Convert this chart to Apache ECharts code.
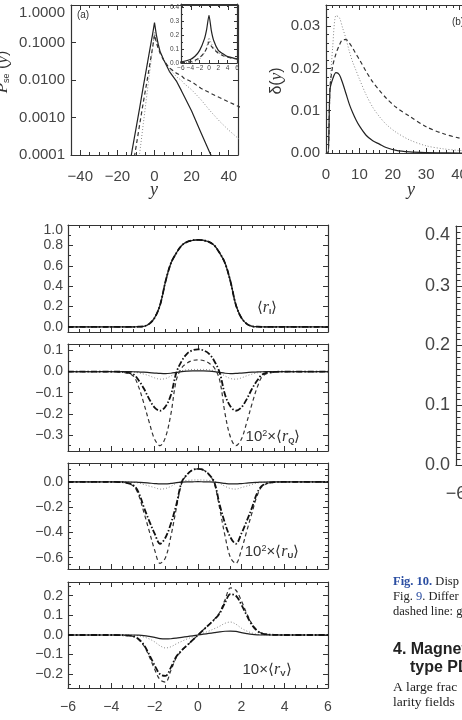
<!DOCTYPE html>
<html>
<head>
<meta charset="utf-8">
<script src="https://cdn.jsdelivr.net/npm/echarts@6/dist/echarts.min.js"></script>
<style>
html, body { margin: 0; padding: 0; background: #fff; overflow: hidden; }
#main { width: 462px; height: 720px; }
</style>
</head>
<body>
<div id="main"></div>
<script>
// ---- panel (a): P_se(y), log scale
var aX = [-20,-15,-13,-12,-10,-9,-8,-6,-4,-2,-1,0,1,2,3,5,8,12,14.5,16,20,25,30,35,40,45,50];
var aSolid = [1e-6,2.2e-5,7e-5,1.4e-4,5e-4,9.5e-4,0.0018,0.0069,0.025,0.09,0.17,0.34,0.16,0.09,0.058,0.034,0.017,0.009,0.0052,0.0037,0.0015,0.0004,0.00011,0.000035,0.00001,0.000003,0.000001];
var aDashed = [1e-7,5e-6,2e-5,4e-5,1.6e-4,3.2e-4,6.5e-4,0.0026,0.0095,0.038,0.075,0.16,0.1,0.07,0.052,0.033,0.021,0.015,0.013,0.011,0.009,0.006,0.0045,0.0034,0.0026,0.002,0.0016];
var aDotted = [1e-8,1e-7,1e-6,2.5e-6,1.6e-5,4e-5,1.1e-4,7e-4,0.0045,0.028,0.07,0.19,0.11,0.075,0.055,0.034,0.02,0.012,0.0098,0.008,0.0055,0.003,0.0015,0.0008,0.00046,0.00028,0.00017];
var aXLabels = [-40,-20,0,20,40];

// inset of (a), linear scale
var insX = [-7.5,-6,-4,-3,-2,-1,-0.5,0,0.5,1,2,3,4,6];
var insSolid = [0.003,0.007,0.025,0.048,0.09,0.17,0.24,0.34,0.23,0.16,0.09,0.065,0.045,0.03];
var insDashed = [0.0008,0.0026,0.0095,0.019,0.038,0.075,0.105,0.15,0.12,0.1,0.07,0.052,0.041,0.027];
var insDotted = [0.00005,0.0007,0.0045,0.011,0.028,0.07,0.11,0.18,0.14,0.11,0.075,0.055,0.042,0.027];
var insXLabels = [-6,-4,-2,0,2,4,6];
var insYLabels = [0,0.1,0.2,0.3,0.4];

// ---- panel (b): delta(y)
var bX = [0,0.6,1.2,2,3,4,5,6,7,8,9,10,12,14,16,18,21,25,30,35,40,45,50];
var bSolid = [0,0,0.015,0.0175,0.019,0.0185,0.0165,0.014,0.0115,0.0095,0.0078,0.0064,0.0042,0.0029,0.0021,0.0013,0.0006,0.00025,0.0001,0.00005,0,0,0];
var bDotted = [0,0,0.015,0.025,0.0325,0.032,0.0295,0.027,0.024,0.0215,0.0195,0.0175,0.0138,0.0108,0.0086,0.0068,0.0049,0.0031,0.0017,0.001,0.0006,0.0004,0.0003];
var bDashed = [0,0,0.0155,0.0205,0.0235,0.0255,0.0268,0.0268,0.026,0.0248,0.0234,0.0221,0.0193,0.0168,0.0148,0.013,0.0108,0.0087,0.0062,0.0046,0.0035,0.0027,0.0022];
var bXLabels = [0,10,20,30,40,50];
var bYLabels = [0,0.01,0.02,0.03];

// ---- stacked Stokes panels
var zX = [-6,-4,-3.5,-3,-2.75,-2.5,-2.25,-2,-1.75,-1.5,-1.25,-1,-0.75,-0.5,-0.25,0,0.25,0.5,0.75,1,1.25,1.5,1.75,2,2.25,2.5,2.75,3,3.5,4,6];
var iProfile = [0,0,0,0,0.002,0.006,0.03,0.09,0.215,0.445,0.625,0.725,0.8,0.835,0.85,0.855,0.85,0.835,0.8,0.725,0.625,0.445,0.215,0.09,0.03,0.006,0.002,0,0,0,0];

var qDashDot = [0,0,-0.002,-0.012,-0.04,-0.08,-0.13,-0.17,-0.185,-0.165,-0.11,-0.005,0.05,0.085,0.1,0.105,0.1,0.085,0.05,-0.005,-0.11,-0.165,-0.185,-0.17,-0.13,-0.08,-0.04,-0.012,-0.002,0,0];
var qDashed = [0,0,-0.003,-0.02,-0.07,-0.15,-0.24,-0.32,-0.35,-0.31,-0.2,-0.04,0.018,0.04,0.052,0.055,0.052,0.04,0.018,-0.04,-0.2,-0.31,-0.35,-0.32,-0.24,-0.15,-0.07,-0.02,-0.003,0,0];
var qDotted = [0,0,0,-0.002,-0.006,-0.012,-0.02,-0.03,-0.036,-0.033,-0.021,-0.006,0.004,0.008,0.01,0.01,0.01,0.008,0.004,-0.006,-0.021,-0.033,-0.036,-0.03,-0.02,-0.012,-0.006,-0.002,0,0,0];
var qSolid = [0,0,0,-0.001,-0.002,-0.003,-0.005,-0.007,-0.009,-0.01,-0.008,-0.004,0,0.002,0.003,0.003,0.003,0.002,0,-0.004,-0.008,-0.01,-0.009,-0.007,-0.005,-0.003,-0.002,-0.001,0,0,0];

var uDashDot = [0,0,-0.002,-0.025,-0.08,-0.2,-0.31,-0.41,-0.49,-0.44,-0.33,-0.18,0,0.06,0.095,0.104,0.095,0.06,0,-0.18,-0.33,-0.44,-0.49,-0.41,-0.31,-0.2,-0.08,-0.025,-0.002,0,0];
var uDashed = [0,0,-0.003,-0.03,-0.1,-0.24,-0.39,-0.54,-0.645,-0.6,-0.43,-0.21,-0.01,0.06,0.095,0.104,0.095,0.06,-0.01,-0.21,-0.43,-0.6,-0.645,-0.54,-0.39,-0.24,-0.1,-0.03,-0.003,0,0];
var uDotted = [0,0,0,-0.003,-0.008,-0.02,-0.033,-0.045,-0.057,-0.052,-0.035,-0.01,0.005,0.012,0.015,0.016,0.015,0.012,0.005,-0.01,-0.035,-0.052,-0.057,-0.045,-0.033,-0.02,-0.008,-0.003,0,0,0];
var uSolid = [0,0,0,-0.001,-0.003,-0.005,-0.009,-0.013,-0.016,-0.016,-0.012,-0.006,-0.002,0,0.001,0.002,0.001,0,-0.002,-0.006,-0.012,-0.016,-0.016,-0.013,-0.009,-0.005,-0.003,-0.001,0,0,0];

var vDashDot = [0,0,-0.001,-0.006,-0.02,-0.05,-0.1,-0.155,-0.2,-0.208,-0.165,-0.11,-0.078,-0.052,-0.026,0,0.026,0.052,0.078,0.11,0.165,0.208,0.2,0.155,0.1,0.05,0.02,0.006,0.001,0,0];
var vDashed = [0,0,-0.001,-0.007,-0.022,-0.055,-0.11,-0.175,-0.228,-0.24,-0.18,-0.115,-0.08,-0.053,-0.027,0,0.027,0.053,0.08,0.115,0.18,0.24,0.228,0.175,0.11,0.055,0.022,0.007,0.001,0,0];
var vDotted = [0,0,0,-0.001,-0.004,-0.01,-0.02,-0.035,-0.055,-0.066,-0.06,-0.045,-0.032,-0.02,-0.01,0,0.01,0.02,0.032,0.045,0.06,0.066,0.055,0.035,0.02,0.01,0.004,0.001,0,0,0];
var vSolid = [0,0,0,0,-0.001,-0.003,-0.007,-0.012,-0.018,-0.02,-0.019,-0.016,-0.012,-0.008,-0.004,0,0.004,0.008,0.012,0.016,0.019,0.02,0.018,0.012,0.007,0.003,0.001,0,0,0,0];

var zXLabels = [-6,-4,-2,0,2,4,6];
var yLabI = [0,0.2,0.4,0.6,0.8,1.0];
var yLabQ = [-0.3,-0.2,-0.1,0,0.1];
var yLabU = [-0.6,-0.4,-0.2,0];
var yLabV = [-0.2,-0.1,0,0.1,0.2];

// ---- cut-off plot at the right edge
var rYLabels = [0,0.1,0.2,0.3,0.4];
var rXLabels = [-6];

var INK = '#333', TXT = '#444';
var grids = [], xAxes = [], yAxes = [], series = [], graphics = [];

function steps(a, b, s) {
  var out = [];
  for (var v = a; v <= b + 1e-9; v += s) out.push(+v.toFixed(6));
  return out;
}
function signed(d) {
  return function (v) { return (v < 0 ? '\u2212' : '') + Math.abs(v).toFixed(d); };
}

function axis(g, pos, range, o) {
  var ax = {
    gridIndex: g, type: o.log ? 'log' : 'value', position: pos,
    min: range[0], max: range[1],
    splitLine: { show: false },
    axisLine: { show: !!o.line, onZero: false, lineStyle: { color: INK, width: 1.2 } },
    axisTick: o.ticks ? { show: true, inside: true, length: o.len, lineStyle: { color: INK, width: 1 } } : { show: false },
    axisLabel: { show: false }
  };
  if (o.ticks && o.ticks !== 'auto') ax.axisTick.customValues = o.ticks;
  if (o.labels) {
    ax.axisLabel = { show: true, color: TXT, fontFamily: 'Liberation Sans', fontSize: o.size, margin: o.margin,
      formatter: o.fmt, showMinLabel: true, showMaxLabel: true, hideOverlap: false };
    if (o.lh) ax.axisLabel.lineHeight = o.lh;
    if (o.labels !== 'auto') ax.axisLabel.customValues = o.labels;
    if (o.topAlign) ax.axisLabel.verticalAlignMaxLabel = 'top';
  }
  return ax;
}

// one framed panel: a major grid and a minor-tick grid at the same place
function panel(rect, xr, yr, p) {
  var g = grids.length;
  for (var k = 0; k < 2; k++) grids.push(Object.assign({ show: false, containLabel: false, outerBoundsMode: 'none' }, rect));
  var xi = xAxes.length, yi = yAxes.length;
  xAxes.push(axis(g, 'bottom', xr, { line: true, ticks: p.xMaj, len: p.lenMaj, labels: p.xLab, fmt: p.xFmt, size: p.size, margin: p.xMargin }));
  xAxes.push(axis(g, 'top', xr, { line: true, ticks: p.xMaj, len: p.lenMaj }));
  xAxes.push(axis(g + 1, 'bottom', xr, { ticks: p.xMin, len: p.lenMin }));
  xAxes.push(axis(g + 1, 'top', xr, { ticks: p.xMin, len: p.lenMin }));
  yAxes.push(axis(g, 'left', yr, { log: p.log, line: true, ticks: p.yMaj, len: p.lenMaj, labels: p.yLab, fmt: p.yFmt, size: p.size, margin: p.yMargin, topAlign: p.topAlign, lh: p.lh }));
  yAxes.push(axis(g, 'right', yr, { log: p.log, line: true, ticks: p.yMaj, len: p.lenMaj }));
  yAxes.push(axis(g + 1, 'left', yr, { log: p.log, ticks: p.yMin, len: p.lenMin }));
  yAxes.push(axis(g + 1, 'right', yr, { log: p.log, ticks: p.yMin, len: p.lenMin }));
  return { x: xi, y: yi };
}

var SOLID = { color: '#222', width: 1.2, type: 'solid' };
var DASH = { color: '#333', width: 1.2, type: [4, 3] };
var DOT = { color: '#8a8a8a', width: 1, type: [1, 2] };
var DDOT = { color: '#111', width: 1.8, type: [6, 2, 1.5, 2] };

function line(ax, xs, ys, st, smooth, z) {
  series.push({
    type: 'line', xAxisIndex: ax.x, yAxisIndex: ax.y,
    data: xs.map(function (x, i) { return [x, ys[i]]; }),
    symbol: 'none', smooth: smooth, silent: true, z: z,
    lineStyle: st
  });
}

function txt(x, y, text, st, rot) {
  graphics.push({
    type: 'text', x: x, y: y, rotation: rot || 0, silent: true, z: 100,
    style: Object.assign({ text: text, fill: '#333', align: 'center', verticalAlign: 'middle',
      fontFamily: 'Liberation Sans', fontSize: 15 }, st)
  });
}

// (a)
var pa = panel({ left: 71, top: 5, width: 167, height: 150 }, [-45, 45], [0.0001, 1], {
  log: true, xMaj: aXLabels, xMin: steps(-45, 45, 5), yMaj: 'auto', yMin: null,
  lenMaj: 5, lenMin: 3, xLab: aXLabels, yLab: 'auto', size: 15, xMargin: 14, yMargin: 6, topAlign: true,
  xFmt: signed(0), yFmt: function (v) { return v.toFixed(4); }
});
line(pa, aX, aDotted, DOT, false, 2);
line(pa, aX, aSolid, SOLID, false, 3);
line(pa, aX, aDashed, DASH, false, 3);

var pin = panel({ left: 181, top: 4, width: 56, height: 59 }, [-6, 6], [0, 0.42], {
  xMaj: insXLabels, xMin: null, yMaj: insYLabels, yMin: steps(0, 0.4, 0.05), lenMaj: 3, lenMin: 2,
  xLab: insXLabels, yLab: insYLabels, size: 6.5, xMargin: 2, yMargin: 2,
  xFmt: signed(0), yFmt: signed(1)
});
line(pin, insX, insDotted, DOT, 0.2, 4);
line(pin, insX, insSolid, SOLID, 0.2, 4);
line(pin, insX, insDashed, DASH, 0.2, 4);

// (b)
var pb = panel({ left: 326, top: 5, width: 167, height: 148 }, [0, 50], [0, 0.035], {
  xMaj: bXLabels, xMin: steps(0, 50, 2), yMaj: bYLabels, yMin: steps(0, 0.034, 0.002),
  lenMaj: 5, lenMin: 3, xLab: bXLabels, yLab: bYLabels, size: 15, xMargin: 14, yMargin: 6,
  xFmt: signed(0), yFmt: signed(2)
});
line(pb, bX, bDotted, DOT, 0.3, 2);
line(pb, bX, bSolid, SOLID, 0.3, 3);
line(pb, bX, bDashed, DASH, 0.3, 3);

// stacked panels
var stack = [
  { top: 225, h: 107, yr: [-0.05, 1.0], lab: yLabI, minor: steps(0, 1, 0.1), top1: true,
    d: [iProfile, iProfile, iProfile, iProfile] },
  { top: 344, h: 107, yr: [-0.375, 0.13], lab: yLabQ, minor: steps(-0.35, 0.1, 0.05),
    d: [qDotted, qSolid, qDashed, qDashDot] },
  { top: 463, h: 106, yr: [-0.69, 0.15], lab: yLabU, minor: steps(-0.65, 0.15, 0.05),
    d: [uDotted, uSolid, uDashed, uDashDot] },
  { top: 582, h: 106, yr: [-0.27, 0.27], lab: yLabV, minor: steps(-0.25, 0.25, 0.05), xl: true,
    d: [vDotted, vSolid, vDashed, vDashDot] }
];
stack.forEach(function (s) {
  var p = panel({ left: 68, top: s.top, width: 260, height: s.h }, [-6, 6], s.yr, {
    xMaj: zXLabels, xMin: steps(-6, 6, 0.5), yMaj: s.lab, yMin: s.minor, lenMaj: 5, lenMin: 3,
    xLab: s.xl ? zXLabels : null, yLab: s.lab, size: 14, lh: 11, xMargin: 12, yMargin: 5, topAlign: s.top1,
    xFmt: signed(0), yFmt: signed(1)
  });
  line(p, zX, s.d[0], DOT, 0.35, 2);
  line(p, zX, s.d[1], SOLID, 0.35, 3);
  line(p, zX, s.d[2], DASH, 0.35, 3);
  line(p, zX, s.d[3], DDOT, 0.35, 4);
});

// right cut-off plot
panel({ left: 456, top: 226, width: 290, height: 239 }, [-6, 6], [0, 0.4], {
  xMaj: rXLabels, xMin: null, yMaj: rYLabels, yMin: steps(0, 0.4, 0.01), lenMaj: 9, lenMin: 4.5,
  xLab: rXLabels, yLab: rYLabels, size: 18, xMargin: 20, yMargin: 6, topAlign: true,
  xFmt: signed(0), yFmt: signed(1)
});

// axis titles and panel tags
var IT = { fontFamily: 'Liberation Serif', fontStyle: 'italic', fontSize: 18 };
txt(83, 15, '(a)', { fontSize: 10 });
txt(458, 22, '(b)', { fontSize: 10 });
txt(154, 190, 'y', IT);
txt(411, 190, 'y', IT);
txt(3, 72, '{i|P}{s|se} ({i|y})', { fontSize: 16, rich: {
  i: { fontFamily: 'Liberation Serif', fontStyle: 'italic', fontSize: 17 },
  s: { fontSize: 9, verticalAlign: 'bottom' } } }, Math.PI / 2);
txt(277, 81, '\u03b4({i|y})', { fontSize: 16, rich: {
  i: { fontFamily: 'Liberation Serif', fontStyle: 'italic', fontSize: 17 } } }, Math.PI / 2);

var RICH = {
  it: { fontFamily: 'Liberation Serif', fontStyle: 'italic', fontSize: 16 },
  sub: { fontSize: 8, fontWeight: 'bold', verticalAlign: 'bottom' },
  sup: { fontSize: 9, verticalAlign: 'top' }
};
txt(267, 308, '\u27e8{it|r}{sub|I}\u27e9', { rich: RICH });
txt(273, 437, '10{sup|2}\u00d7\u27e8{it|r}{sub|Q}\u27e9', { rich: RICH });
txt(272, 552, '10{sup|2}\u00d7\u27e8{it|r}{sub|U}\u27e9', { rich: RICH });
txt(267, 670, '10\u00d7\u27e8{it|r}{sub|V}\u27e9', { rich: RICH });

// caption and body text fragments at the lower right
var SERIF = { align: 'left', fontFamily: 'Liberation Serif', fontSize: 12.5, fill: '#222',
  rich: { b: { fontWeight: 'bold', fill: '#2b4ea2', fontFamily: 'Liberation Serif', fontSize: 12.5 },
          l: { fill: '#2b4ea2', fontFamily: 'Liberation Serif', fontSize: 12.5 } } };
txt(393, 582, '{b|Fig. 10.} Disp', SERIF);
txt(393, 597, 'Fig. {l|9}. Differ', SERIF);
txt(393, 612, 'dashed line: g', SERIF);
txt(393, 650, '4. Magnet', { align: 'left', fontWeight: 'bold', fontSize: 16, fill: '#222' });
txt(410, 668, 'type PD', { align: 'left', fontWeight: 'bold', fontSize: 16, fill: '#222' });
txt(393, 687, 'A large frac', Object.assign({}, SERIF, { fontSize: 13.5 }));
txt(393, 702, 'larity fields', Object.assign({}, SERIF, { fontSize: 13.5 }));

var chart = echarts.init(document.getElementById('main'), null, { renderer: 'canvas' });
chart.setOption({
  animation: false,
  backgroundColor: '#fff',
  grid: grids,
  xAxis: xAxes,
  yAxis: yAxes,
  series: series,
  graphic: graphics
});
</script>
</body>
</html>
